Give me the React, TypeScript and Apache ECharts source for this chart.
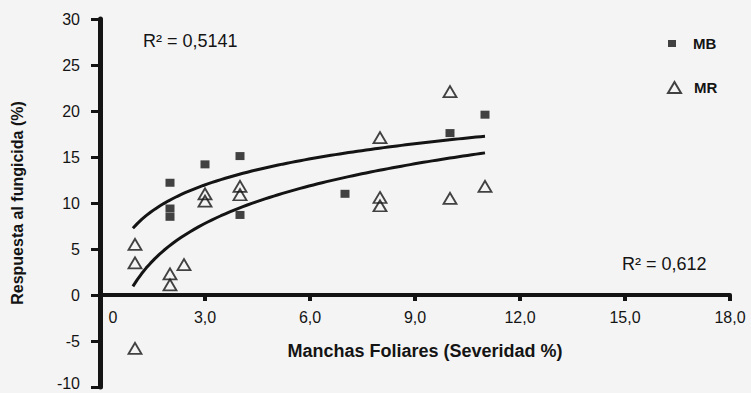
import React, { useEffect, useRef } from "react";
import * as echarts from "echarts";

// Scatter values
const MB_X = [2, 2, 2, 3, 4, 4, 7, 10, 11];
const MB_Y = [12.2, 9.4, 8.5, 14.2, 15.1, 8.7, 11.0, 17.6, 19.6];

const MR_X = [1, 1, 1, 2, 2, 2.4, 3, 3, 4, 4, 8, 8, 8, 10, 10, 11];
const MR_Y = [5.5, 3.5, -5.8, 2.3, 1.1, 3.3, 11.0, 10.2, 11.8, 10.9, 17.1, 10.6, 9.7, 22.1, 10.5, 11.8];

// Logarithmic trend lines (y = a + b ln x), coefficients
const MB_TREND = { a: 7.5, b: 4.07, from: 0.94, to: 11 };
const MR_TREND = { a: 1.3, b: 5.9, from: 0.94, to: 11 };

const X_TICKS = [0, 3, 6, 9, 12, 15, 18];
const Y_TICKS = [-10, -5, 0, 5, 10, 15, 20, 25, 30];

const R2_MB = "R² = 0,5141";
const R2_MR = "R² = 0,612";

const INK = "#141414";
const FONT = '"Liberation Sans", Arial, sans-serif';

const GRID_TOP = 19;
const GRID_BOTTOM = 6;
const CHART_H = 393;

function trendPoints(t: { a: number; b: number; from: number; to: number }) {
  const pts: number[][] = [];
  const n = 80;
  for (let i = 0; i <= n; i++) {
    const x = t.from + ((t.to - t.from) * i) / n;
    pts.push([x, t.a + t.b * Math.log(x)]);
  }
  return pts;
}

export default function App() {
  const ref = useRef<HTMLDivElement>(null);

  useEffect(() => {
    if (!ref.current) return;
    const chart = echarts.init(ref.current, undefined, { renderer: "svg" });
    const mbData = MB_X.map((x, i) => [x, MB_Y[i]]);
    const mrData = MR_X.map((x, i) => [x, MR_Y[i]]);

    const yMin = Y_TICKS[0];
    const yMax = Y_TICKS[Y_TICKS.length - 1];
    const gridH = CHART_H - GRID_TOP - GRID_BOTTOM;
    // move the x axis (line, ticks, labels, name) up from the grid bottom to y = 0
    const zeroOffset = -((0 - yMin) / (yMax - yMin)) * gridH;

    chart.setOption({
      animation: false,
      backgroundColor: "#f4f4f4",
      grid: {
        left: 100,
        right: 21,
        top: GRID_TOP,
        bottom: GRID_BOTTOM,
        containLabel: false,
        outerBoundsMode: "none",
      },
      xAxis: {
        type: "value",
        position: "bottom",
        offset: zeroOffset,
        min: X_TICKS[0],
        max: X_TICKS[X_TICKS.length - 1],
        interval: 3,
        name: "Manchas Foliares (Severidad %)",
        nameLocation: "middle",
        nameGap: 47,
        nameTextStyle: {
          fontFamily: FONT,
          fontSize: 18,
          fontWeight: "bold",
          color: INK,
          padding: [0, 0, 0, 20],
        },
        axisLine: { onZero: false, lineStyle: { color: INK, width: 4 } },
        axisTick: { show: true, length: 6, lineStyle: { color: INK, width: 4 } },
        splitLine: { show: false },
        axisLabel: {
          margin: 14,
          fontFamily: FONT,
          fontSize: 16,
          color: INK,
          formatter: (v: number) =>
            v === 0 ? "{z|0}" : v.toFixed(1).replace(".", ","),
          rich: {
            z: { fontFamily: FONT, fontSize: 16, color: INK, padding: [0, 0, 0, 26] },
          },
        },
      },
      yAxis: {
        type: "value",
        min: yMin,
        max: yMax,
        interval: 5,
        name: "Respuesta al fungicida (%)",
        nameLocation: "middle",
        nameGap: 75,
        nameTextStyle: {
          fontFamily: FONT,
          fontSize: 16,
          fontWeight: "bold",
          color: INK,
        },
        axisLine: { show: true, onZero: false, lineStyle: { color: INK, width: 5 } },
        axisTick: { show: true, length: 9, lineStyle: { color: INK, width: 3 } },
        splitLine: { show: false },
        axisLabel: {
          margin: 20,
          fontFamily: FONT,
          fontSize: 16,
          color: INK,
          formatter: (v: number) => (v === yMin ? `{b|${v}}` : `${v}`),
          rich: {
            b: { fontFamily: FONT, fontSize: 16, color: INK, padding: [0, 0, 8, 0] },
          },
        },
      },
      legend: [
        {
          data: [{ name: "MB", icon: "rect" }],
          orient: "vertical",
          left: 663,
          top: 31,
          itemWidth: 8,
          itemHeight: 7,
          textStyle: {
            fontFamily: FONT,
            fontSize: 15,
            fontWeight: "bold",
            color: INK,
            padding: [0, 0, 0, 12],
          },
          selectedMode: false,
        },
        {
          data: [
            {
              name: "MR",
              icon: "triangle",
              itemStyle: { color: "transparent", borderColor: INK, borderWidth: 2 },
            },
          ],
          orient: "vertical",
          left: 662,
          top: 75,
          itemWidth: 13,
          itemHeight: 11,
          textStyle: {
            fontFamily: FONT,
            fontSize: 15,
            fontWeight: "bold",
            color: INK,
            padding: [0, 0, 0, 8],
          },
          selectedMode: false,
        },
      ],
      series: [
        {
          name: "Log. (MB)",
          type: "line",
          data: trendPoints(MB_TREND),
          showSymbol: false,
          symbol: "none",
          silent: true,
          lineStyle: { color: INK, width: 3 },
          z: 2,
        },
        {
          name: "Log. (MR)",
          type: "line",
          data: trendPoints(MR_TREND),
          showSymbol: false,
          symbol: "none",
          silent: true,
          lineStyle: { color: INK, width: 3 },
          z: 2,
        },
        {
          name: "MB",
          type: "scatter",
          data: mbData,
          symbol: "rect",
          symbolSize: [9, 8],
          itemStyle: { color: INK },
          z: 3,
        },
        {
          name: "MR",
          type: "scatter",
          data: mrData,
          symbol: "triangle",
          symbolSize: [13, 11],
          itemStyle: { color: "rgba(244,244,244,0)", borderColor: INK, borderWidth: 1.8 },
          z: 4,
        },
      ],
      graphic: [
        {
          type: "text",
          left: 143,
          top: 32,
          style: { text: R2_MB, font: `18px ${FONT}`, fill: INK },
        },
        {
          type: "text",
          left: 622,
          top: 255,
          style: { text: R2_MR, font: `18px ${FONT}`, fill: INK },
        },
      ],
    });

    return () => chart.dispose();
  }, []);

  return (
    <div
      ref={ref}
      style={{ position: "absolute", left: 0, top: 0, width: 751, height: 393 }}
    />
  );
}
